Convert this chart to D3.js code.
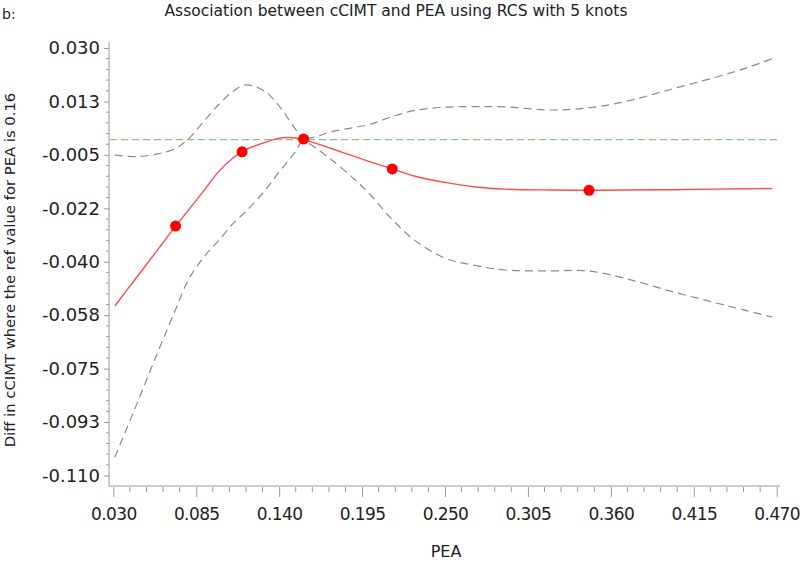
<!DOCTYPE html>
<html>
<head>
<meta charset="utf-8">
<script src="https://cdn.jsdelivr.net/npm/d3@7"></script>
<style>
  body { margin: 0; background: #fff; }
  text { font-family: "DejaVu Sans", sans-serif; fill: #222; }
</style>
</head>
<body>
<div id="chart"></div>
<script>
const pea = [0.031, 0.045, 0.060, 0.071, 0.080, 0.090, 0.100, 0.110, 0.118, 0.130,
    0.140, 0.150, 0.156, 0.165, 0.175, 0.190, 0.200, 0.215, 0.230, 0.250,
    0.270, 0.290, 0.320, 0.345, 0.370, 0.400, 0.430, 0.450, 0.467];

// estimated difference in cCIMT (red line)
const estimate = [-0.0545, -0.0454, -0.0357, -0.0285, -0.0230, -0.0168, -0.0104, -0.0058, -0.0033, -0.0010,
    0.0005, 0.0006, 0.0000, -0.0013, -0.0030, -0.0055, -0.0072, -0.0096, -0.0120, -0.0140,
    -0.0155, -0.0162, -0.0165, -0.0166, -0.0165, -0.0164, -0.0162, -0.0161, -0.0160];

// confidence band, curve that peaks on the left and falls to the right
const bandA = [-0.0050, -0.0056, -0.0046, -0.0030, 0.0003, 0.0060, 0.0115, 0.0160, 0.0179, 0.0160,
    0.0110, 0.0040, 0.0002, -0.0030, -0.0067, -0.0130, -0.0178, -0.0262, -0.0330, -0.0388,
    -0.0412, -0.0427, -0.0430, -0.0430, -0.0455, -0.0497, -0.0535, -0.0560, -0.0581];

// confidence band, curve that rises from the lower left to the upper right
const bandB = [-0.1040, -0.0873, -0.0690, -0.0560, -0.0457, -0.0385, -0.0330, -0.0272, -0.0235, -0.0170,
    -0.0106, -0.0045, -0.0002, 0.0010, 0.0026, 0.0040, 0.0050, 0.0075, 0.0096, 0.0106,
    0.0108, 0.0107, 0.0097, 0.0104, 0.0125, 0.0165, 0.0205, 0.0235, 0.0265];

// knot markers
const knotPea = [0.0713, 0.1154, 0.1562, 0.215, 0.3455];
const knotDiff = [-0.0283, -0.0040, 0.0002, -0.0096, -0.0166];

const xTicks = [0.030, 0.085, 0.140, 0.195, 0.250, 0.305, 0.360, 0.415, 0.470];
const xTickLabels = ['0.030', '0.085', '0.140', '0.195', '0.250', '0.305', '0.360', '0.415', '0.470'];
const yTicks = [0.030, 0.0125, -0.005, -0.0225, -0.040, -0.0575, -0.075, -0.0925, -0.110];
const yTickLabels = ['0.030', '0.013', '-0.005', '-0.022', '-0.040', '-0.058', '-0.075', '-0.093', '-0.110'];

const REF_VALUE = 0;

const WIDTH = 800;
const HEIGHT = 562;

const svg = d3.select('#chart')
    .append('svg')
    .attr('width', WIDTH)
    .attr('height', HEIGHT);

// Scales
const xScale = d3.scaleLinear()
    .domain([0.030, 0.470])
    .range([113.3, 776.7]);

const yScale = d3.scaleLinear()
    .domain([-0.110, 0.030])
    .range([475.5, 48]);

const AXIS_X = 109;
const AXIS_Y = 486;
const axisColor = '#9a9a9a';

// Axis lines
svg.append('line')
    .attr('x1', AXIS_X).attr('x2', AXIS_X)
    .attr('y1', 42).attr('y2', AXIS_Y)
    .attr('stroke', axisColor);
svg.append('line')
    .attr('x1', AXIS_X).attr('x2', 780)
    .attr('y1', AXIS_Y).attr('y2', AXIS_Y)
    .attr('stroke', axisColor);

// Minor ticks
const xMinor = [];
for (let i = 0; i < xTicks.length - 1; i++) {
    for (let k = 1; k < 5; k++) xMinor.push(xTicks[i] + (xTicks[i + 1] - xTicks[i]) * k / 5);
}
const yMinor = [];
for (let i = 0; i < yTicks.length - 1; i++) {
    for (let k = 1; k < 5; k++) yMinor.push(yTicks[i] + (yTicks[i + 1] - yTicks[i]) * k / 5);
}

svg.append('g')
    .selectAll('line')
    .data(xMinor)
    .enter()
    .append('line')
    .attr('x1', d => xScale(d)).attr('x2', d => xScale(d))
    .attr('y1', AXIS_Y + 1).attr('y2', AXIS_Y + 6)
    .attr('stroke', axisColor);

svg.append('g')
    .selectAll('line')
    .data(yMinor)
    .enter()
    .append('line')
    .attr('x1', AXIS_X - 3).attr('x2', AXIS_X)
    .attr('y1', d => yScale(d)).attr('y2', d => yScale(d))
    .attr('stroke', axisColor);

// X axis
const xAxis = d3.axisBottom(xScale)
    .tickValues(xTicks)
    .tickFormat((d, i) => xTickLabels[i])
    .tickSize(10)
    .tickPadding(11);

const gx = svg.append('g')
    .attr('transform', `translate(0, ${AXIS_Y + 1})`)
    .call(xAxis);
gx.select('.domain').remove();
gx.selectAll('line').attr('stroke', axisColor);
gx.selectAll('text')
    .attr('font-size', 17)
    .attr('fill', '#222')
    .style('letter-spacing', '-0.6px')
    .style('font-family', '"DejaVu Sans", sans-serif');

// Y axis
const yAxis = d3.axisLeft(yScale)
    .tickValues(yTicks)
    .tickFormat((d, i) => yTickLabels[i])
    .tickSize(5)
    .tickPadding(4);

const gy = svg.append('g')
    .attr('transform', `translate(${AXIS_X}, 0)`)
    .call(yAxis);
gy.select('.domain').remove();
gy.selectAll('line').attr('stroke', axisColor);
gy.selectAll('text')
    .attr('font-size', 18)
    .attr('fill', '#222')
    .style('font-family', '"DejaVu Sans", sans-serif');

// Reference line
svg.append('line')
    .attr('x1', AXIS_X + 1).attr('x2', 781)
    .attr('y1', yScale(REF_VALUE)).attr('y2', yScale(REF_VALUE))
    .attr('stroke', '#80c880')
    .attr('stroke-width', 1.2)
    .attr('stroke-dasharray', '7,4');

const line = (values) => d3.line()
    .x((d, i) => xScale(pea[i]))
    .y(d => yScale(d))
    .curve(d3.curveCatmullRom.alpha(0.5))(values);

// Confidence bands
[bandA, bandB].forEach(band => {
    svg.append('path')
        .attr('d', line(band))
        .attr('fill', 'none')
        .attr('stroke', '#8a8a8a')
        .attr('stroke-width', 1.2)
        .attr('stroke-dasharray', '8,5');
});

// Estimate
svg.append('path')
    .attr('d', line(estimate))
    .attr('fill', 'none')
    .attr('stroke', '#ff4a4a')
    .attr('stroke-width', 1.4);

// Knot points
svg.selectAll('circle')
    .data(knotPea)
    .enter()
    .append('circle')
    .attr('cx', d => xScale(d))
    .attr('cy', (d, i) => yScale(knotDiff[i]))
    .attr('r', 5.5)
    .attr('fill', '#ff0000');

// Titles
svg.append('text')
    .attr('x', 2)
    .attr('y', 19)
    .attr('font-size', 14)
    .text('b:');

svg.append('text')
    .attr('x', 396)
    .attr('y', 16)
    .attr('text-anchor', 'middle')
    .attr('font-size', 15.5)
    .text('Association between cCIMT and PEA using RCS with 5 knots');

svg.append('text')
    .attr('x', 446)
    .attr('y', 557)
    .attr('text-anchor', 'middle')
    .attr('font-size', 16)
    .text('PEA');

svg.append('text')
    .attr('transform', 'translate(15, 270) rotate(-90)')
    .attr('text-anchor', 'middle')
    .attr('font-size', 14.8)
    .text('Diff in cCIMT where the ref value for PEA is 0.16');
</script>
</body>
</html>
